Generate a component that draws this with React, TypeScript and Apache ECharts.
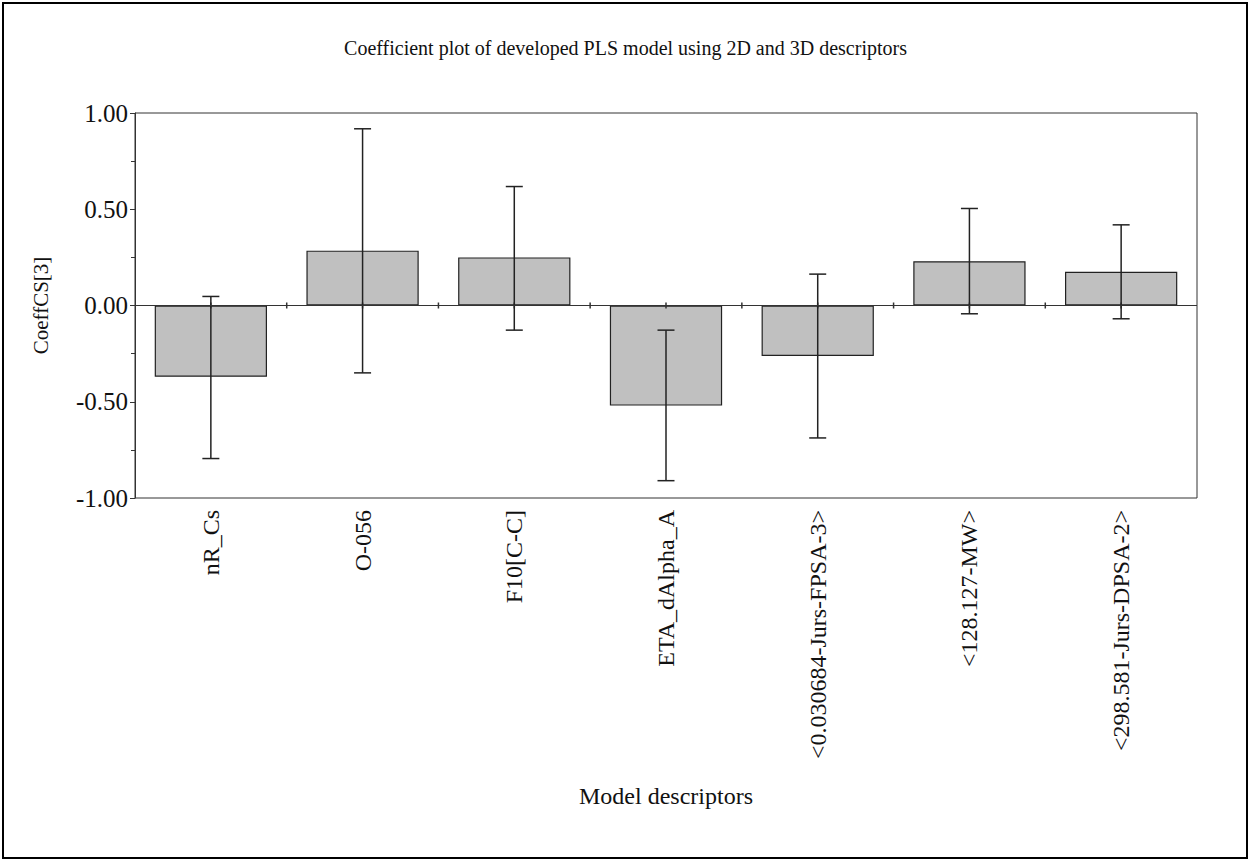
import React, { useEffect, useRef } from "react";
import * as echarts from "echarts";

const categories = [
  "nR_Cs",
  "O-056",
  "F10[C-C]",
  "ETA_dAlpha_A",
  "<0.030684-Jurs-FPSA-3>",
  "<128.127-MW>",
  "<298.581-Jurs-DPSA-2>",
];
const coefficients = [-0.37, 0.285, 0.25, -0.52, -0.262, 0.23, 0.175];
const errorLow = [-0.795, -0.35, -0.128, -0.91, -0.688, -0.043, -0.069];
const errorHigh = [0.047, 0.918, 0.618, -0.128, 0.163, 0.504, 0.419];
const yTicks = [-1, -0.5, 0, 0.5, 1];

const FONT = "'Liberation Serif', 'Times New Roman', serif";

export default function App() {
  const ref = useRef<HTMLDivElement>(null);
  useEffect(() => {
    document.body.style.margin = "0";
    if (!ref.current) return;
    const chart = echarts.init(ref.current, null, { renderer: "svg" });
    const option: any = {
      animation: false,
      backgroundColor: "#ffffff",
      title: {
        text: "Coefficient plot of developed PLS model using 2D and 3D descriptors",
        left: "center",
        top: 33,
        textStyle: { fontFamily: FONT, fontSize: 20, fontWeight: "normal", color: "#111" },
      },
      graphic: [
        {
          type: "rect",
          shape: { x: 3, y: 3, width: 1244, height: 855 },
          style: { fill: "none", stroke: "#000", lineWidth: 2 },
          silent: true,
        },
      ],
      grid: {
        left: 135,
        right: 54,
        top: 113,
        bottom: 366,
        show: true,
        borderColor: "#333",
        borderWidth: 1,
        backgroundColor: "transparent",
      },
      xAxis: {
        type: "category",
        data: categories,
        position: "bottom",
        axisLine: { show: false, onZero: false },
        axisTick: { show: false },
        axisLabel: {
          rotate: 90,
          margin: 12,
          fontFamily: FONT,
          fontSize: 24,
          color: "#111",
          interval: 0,
        },
        name: "Model descriptors",
        nameLocation: "middle",
        nameGap: 286,
        nameTextStyle: { fontFamily: FONT, fontSize: 24, color: "#111" },
      },
      yAxis: {
        type: "value",
        min: yTicks[0],
        max: yTicks[yTicks.length - 1],
        interval: 0.5,
        axisLine: { show: true, lineStyle: { color: "#333" } },
        axisTick: { show: true, length: 5, lineStyle: { color: "#333" } },
        minorTick: { show: true, splitNumber: 2, length: 4, lineStyle: { color: "#333" } },
        splitLine: { show: false },
        axisLabel: {
          margin: 7,
          fontFamily: FONT,
          fontSize: 25,
          color: "#111",
          formatter: (v: number) => v.toFixed(2),
        },
        name: "CoeffCS[3]",
        nameLocation: "middle",
        nameGap: 84,
        nameTextStyle: { fontFamily: FONT, fontSize: 21, color: "#111" },
      },
      series: [
        {
          type: "bar",
          data: coefficients,
          barWidth: "74%",
          itemStyle: { color: "#c0c0c0", borderColor: "#222", borderWidth: 1.2 },
          markLine: {
            silent: true,
            symbol: "none",
            label: { show: false },
            lineStyle: { color: "#333", width: 1.2, type: "solid" },
            data: [{ yAxis: 0 }],
          },
          z: 2,
        },
        {
          type: "custom",
          name: "ticks",
          z: 3,
          silent: true,
          data: categories.map((_, i) => [i, 0]),
          encode: { x: 0, y: 1 },
          renderItem: (params: any, api: any) => {
            const idx = api.value(0);
            const c = api.coord([idx, 0]);
            const bw = api.size([1, 0])[0];
            const xs = idx === 0 ? [c[0]] : [c[0] - bw / 2, c[0]];
            return {
              type: "group",
              children: xs.map((x: number) => ({
                type: "line",
                shape: { x1: x, y1: c[1] - 3, x2: x, y2: c[1] + 3 },
                style: { stroke: "#333", lineWidth: 1.5 },
              })),
            };
          },
        },
        {
          type: "custom",
          name: "error",
          z: 4,
          silent: true,
          data: categories.map((_, i) => [i, errorLow[i], errorHigh[i]]),
          encode: { x: 0, y: [1, 2] },
          renderItem: (params: any, api: any) => {
            const idx = api.value(0);
            const lo = api.coord([idx, api.value(1)]);
            const hi = api.coord([idx, api.value(2)]);
            const hw = 8.5;
            const st = { stroke: "#222", lineWidth: 1.5 };
            return {
              type: "group",
              children: [
                { type: "line", shape: { x1: lo[0], y1: lo[1], x2: hi[0], y2: hi[1] }, style: st },
                { type: "line", shape: { x1: hi[0] - hw, y1: hi[1], x2: hi[0] + hw, y2: hi[1] }, style: st },
                { type: "line", shape: { x1: lo[0] - hw, y1: lo[1], x2: lo[0] + hw, y2: lo[1] }, style: st },
              ],
            };
          },
        },
      ],
    };
    chart.setOption(option);
    return () => chart.dispose();
  }, []);
  return <div ref={ref} style={{ width: 1251, height: 864 }} />;
}
